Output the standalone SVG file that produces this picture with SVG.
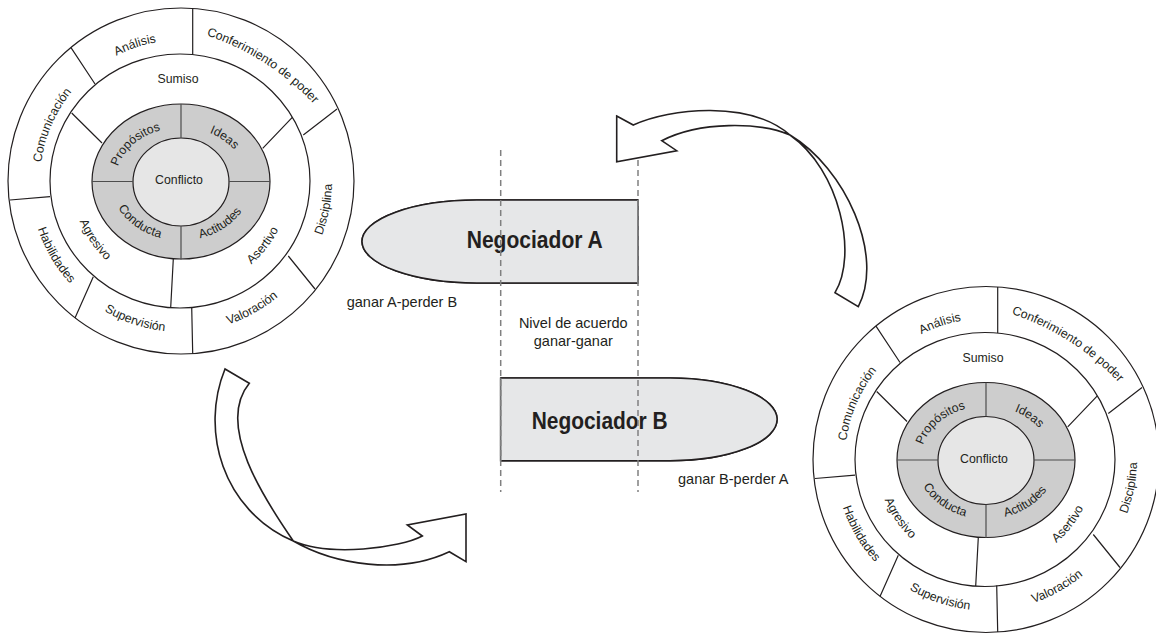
<svg xmlns="http://www.w3.org/2000/svg" xmlns:xlink="http://www.w3.org/1999/xlink" width="1156" height="635" viewBox="0 0 1156 635">
  <style>
    .ring{fill:#fff;stroke:#231f20;stroke-width:1.2}
    .grey{fill:#cdcdcd;stroke:#231f20;stroke-width:1.2}
    .core{fill:#e6e6e6;stroke:#231f20;stroke-width:1.2}
    .ln{fill:none;stroke:#231f20;stroke-width:1.2}
    .gdiv{fill:none;stroke:#4d4d4d;stroke-width:1.2}
    .wt{font-family:"Liberation Sans Narrow","Liberation Sans",Arial,sans-serif;font-size:12.3px;fill:#231f20;text-anchor:middle}
    .lbl{font-family:"Liberation Sans",Arial,sans-serif;font-size:14.5px;fill:#231f20}
    .neg{font-family:"Liberation Sans",Arial,sans-serif;font-weight:bold;font-size:23.5px;fill:#231f20}
    .bar{fill:#e6e7e8;stroke:#231f20;stroke-width:1.6}
    .edge{stroke:#6d6e70;stroke-width:1.6}
    .dash{fill:none;stroke:#808080;stroke-width:1.5;stroke-dasharray:6 4}
    .arrow{fill:#fff;stroke:#231f20;stroke-width:1.6;stroke-linejoin:miter}
  </style>
  <defs>
    <!-- text baselines: clockwise paths keep letter tops outward, counter-clockwise ones keep them inward -->
    <path id="pOutCW" d="M-141,0 A141,141 0 0 1 141,0 A141,141 0 0 1 -141,0"/>
    <path id="pOutCCW" d="M-151,0 A151,151 0 0 0 151,0 A151,151 0 0 0 -151,0"/>
    <path id="pPoder" d="M8.8,-150.7 A260,260 0 0 1 144.2,-64.1"/>
    <path id="pMidCCW" d="M-109,0 A109,109 0 0 0 109,0 A109,109 0 0 0 -109,0"/>
    <path id="pInCW" d="M-65.5,0 A65.5,53.5 0 0 1 65.5,0 A65.5,53.5 0 0 1 -65.5,0"/>
    <path id="pInCCW" d="M-70.5,0 A70.5,59.5 0 0 0 70.5,0 A70.5,59.5 0 0 0 -70.5,0"/>

    <!-- conflict wheel, drawn around its own centre -->
    <g id="wheel">
      <circle class="ring" r="173"/>
      <ellipse class="ring" cx="-1" rx="130" ry="127"/>
      <ellipse class="grey" cy="0.5" rx="89" ry="77.5"/>
      <ellipse class="core" cy="1" rx="48" ry="44"/>
      <!-- outer ring dividers -->
      <path class="ln" d="M11.7,-172.6 L11.7,-126.5 M-110,-133.3 L-86,-97 M-171,19 L-131,15.7 M-106,137 L-87.7,95.7 M11.7,172.6 L10.7,126 M134,108 L107.3,75 M156,-72 L122.3,-46"/>
      <!-- middle ring dividers -->
      <path class="ln" d="M-109.3,-68 L-79,-38 M111.3,-63.7 L81.7,-32.7 M-7.7,78 L-10.3,126.5"/>
      <!-- quadrant dividers -->
      <path class="gdiv" d="M0,-77 L0,-43 M0,45 L0,78.5 M-89,0.5 L-48,0.5 M48,0.5 L89,0.5"/>

      <text class="wt"><textPath xlink:href="#pOutCW" href="#pOutCW" startOffset="19.8%">Análisis</textPath></text>
      <text class="wt"><textPath xlink:href="#pPoder" href="#pPoder" startOffset="50%">Conferimiento de poder</textPath></text>
      <text class="wt"><textPath xlink:href="#pOutCW" href="#pOutCW" startOffset="6.5%">Comunicación</textPath></text>
      <text class="wt"><textPath xlink:href="#pOutCCW" href="#pOutCCW" startOffset="8.5%">Habilidades</textPath></text>
      <text class="wt"><textPath xlink:href="#pOutCCW" href="#pOutCCW" startOffset="19.9%">Supervisión</textPath></text>
      <text class="wt"><textPath xlink:href="#pOutCCW" href="#pOutCCW" startOffset="33.1%">Valoración</textPath></text>
      <text class="wt"><textPath xlink:href="#pOutCCW" href="#pOutCCW" startOffset="46.9%">Disciplina</textPath></text>

      <text class="wt" x="-3" y="-98">Sumiso</text>
      <text class="wt"><textPath xlink:href="#pMidCCW" href="#pMidCCW" startOffset="9.5%">Agresivo</textPath></text>
      <text class="wt"><textPath xlink:href="#pMidCCW" href="#pMidCCW" startOffset="39.4%">Asertivo</textPath></text>

      <text class="wt"><textPath xlink:href="#pInCW" href="#pInCW" startOffset="11.7%">Propósitos</textPath></text>
      <text class="wt"><textPath xlink:href="#pInCW" href="#pInCW" startOffset="36.8%">Ideas</textPath></text>
      <text class="wt"><textPath xlink:href="#pInCCW" href="#pInCCW" startOffset="13.4%">Conducta</textPath></text>
      <text class="wt"><textPath xlink:href="#pInCCW" href="#pInCCW" startOffset="35.9%">Actitudes</textPath></text>

      <text class="wt" x="-2" y="3">Conflicto</text>
    </g>
  </defs>

  <rect width="1156" height="635" fill="#fff"/>

  <g id="wheel-left">
    <use xlink:href="#wheel" href="#wheel" transform="translate(181,181)"/>
  </g>
  <g id="wheel-right">
    <use xlink:href="#wheel" href="#wheel" transform="translate(986,459.5)"/>
  </g>

  <g id="negociador-a">
    <path class="bar" d="M638,200 L477,200 A115,41.5 0 0 0 477,283 L638,283 Z" stroke="none"/>
    <path class="bar" d="M638,200 L477,200 A115,41.5 0 0 0 477,283 L638,283" fill="none"/>
    <line class="edge" x1="638" y1="200" x2="638" y2="283"/>
    <text class="neg" x="466.7" y="248" textLength="136" lengthAdjust="spacingAndGlyphs">Negociador A</text>
  </g>

  <g id="negociador-b">
    <path class="bar" d="M500.7,378 L670,378 A107,41.3 0 0 1 670,460.7 L500.7,460.7 Z" stroke="none"/>
    <path class="bar" d="M500.7,378 L670,378 A107,41.3 0 0 1 670,460.7 L500.7,460.7" fill="none"/>
    <line class="edge" x1="500.7" y1="378" x2="500.7" y2="460.7"/>
    <text class="neg" x="531.7" y="429.3" textLength="136" lengthAdjust="spacingAndGlyphs">Negociador B</text>
  </g>

  <g id="acuerdo">
    <line class="dash" x1="500.7" y1="150" x2="500.7" y2="492"/>
    <line class="dash" x1="638" y1="150" x2="638" y2="492"/>
    <text class="lbl" x="573.3" y="328" text-anchor="middle">Nivel de acuerdo</text>
    <text class="lbl" x="573.3" y="346" text-anchor="middle">ganar-ganar</text>
  </g>

  <g id="label-a">
    <text class="lbl" x="346.7" y="306.5">ganar A-perder B</text>
  </g>
  <g id="label-b">
    <text class="lbl" x="678" y="484.3">ganar B-perder A</text>
  </g>

  <g id="connectors">
    <!-- twisted ribbon arrow from the left wheel towards negociador B -->
    <path class="arrow" d="M225,369 C200,430 222,510 293.3,541 C335,565 400,575 449.3,551.7 L466,561.7 L466,514 L407.3,525 L422.3,536 C400,548 330,557 293.3,541 C265,500 215,425 249.3,383.3 Z"/>
    <!-- twisted ribbon arrow from the right wheel back over negociador A -->
    <path class="arrow" d="M616.7,116 L633.3,125 C670,108 750,100 790,135 C845,168 885,255 858.3,306.7 L835,292.7 C858,255 840,170 790,135 C760,122 700,121 661.7,140.7 L676.7,150.7 L616.7,161.7 Z"/>
  </g>
</svg>
